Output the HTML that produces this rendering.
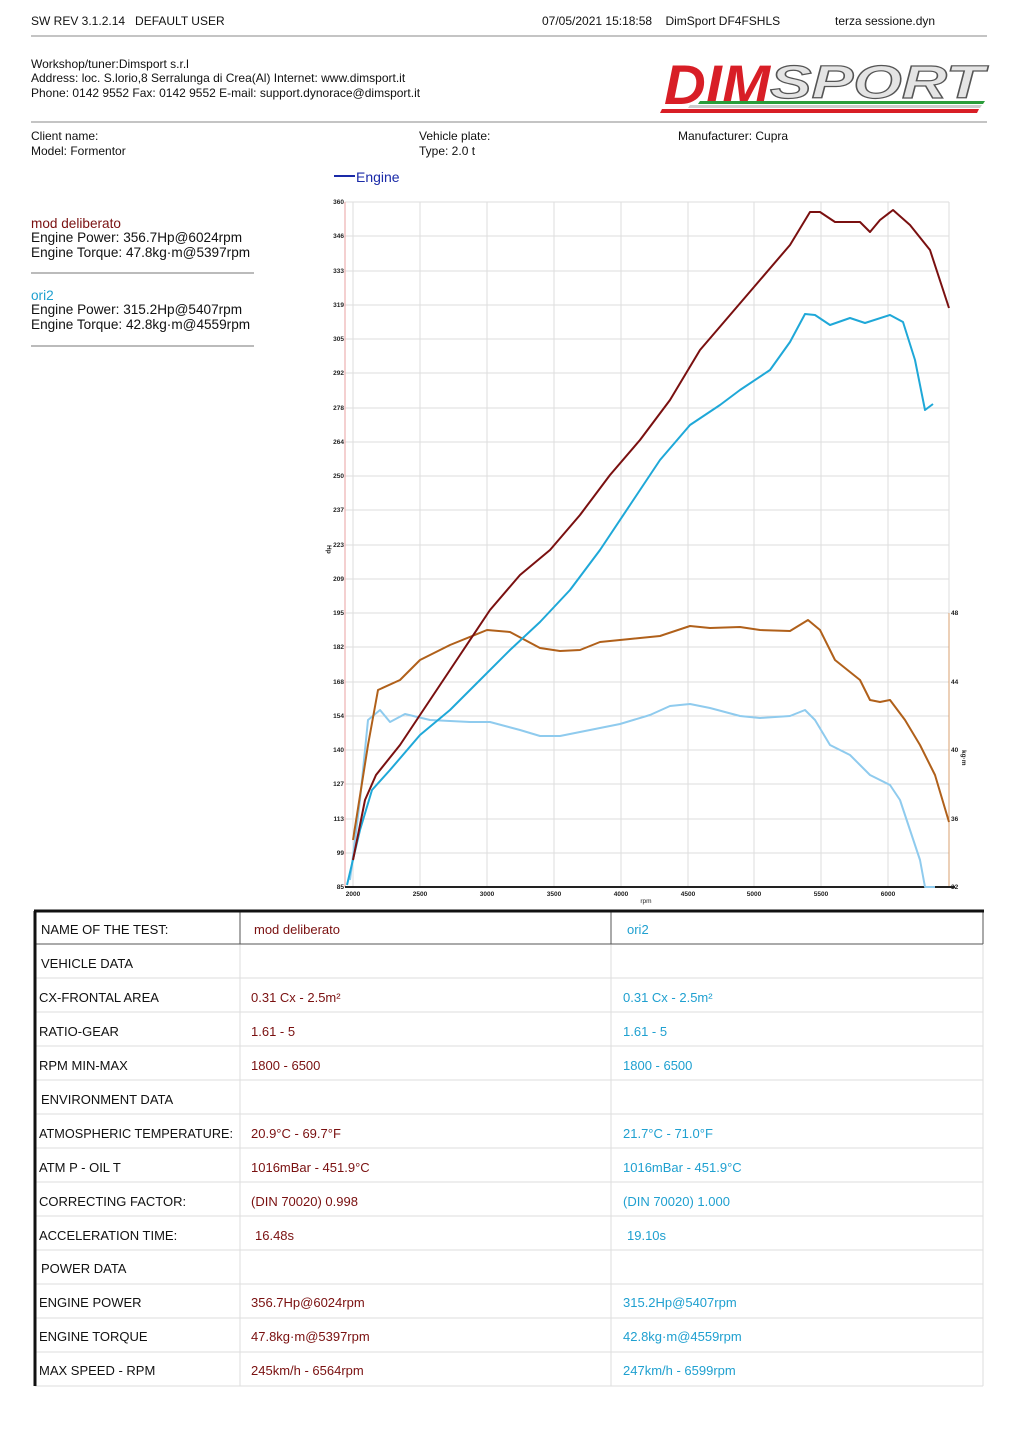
<!DOCTYPE html>
<html><head><meta charset="utf-8"><style>
html,body{margin:0;padding:0;background:#fff}
svg{display:block}
.t{font-family:"Liberation Sans",sans-serif;font-size:12px;fill:#111}
.n{font-family:"Liberation Sans",sans-serif;font-size:13px}
.ax{font-family:"Liberation Sans",sans-serif;font-size:6.5px;font-weight:bold;fill:#222}
</style></head><body>
<svg width="1017" height="1440" viewBox="0 0 1017 1440" xmlns="http://www.w3.org/2000/svg">
<text class="t" x="31" y="25">SW REV 3.1.2.14 &#160; DEFAULT USER</text>
<text class="t" x="542" y="25">07/05/2021 15:18:58 &#160;&#160; DimSport DF4FSHLS</text>
<text class="t" x="835" y="25">terza sessione.dyn</text>
<line x1="31" y1="36" x2="987" y2="36" stroke="#888"/>
<text class="t" x="31" y="68">Workshop/tuner:Dimsport s.r.l</text>
<text class="t" x="31" y="82">Address: loc. S.lorio,8 Serralunga di Crea(Al) Internet: www.dimsport.it</text>
<text class="t" x="31" y="97">Phone: 0142 9552 Fax: 0142 9552 E-mail: support.dynorace@dimsport.it</text>
<!-- logo -->
<text x="664" y="104" font-family="Liberation Sans" font-weight="bold" font-style="italic" font-size="56" fill="#d81e26" textLength="106" lengthAdjust="spacingAndGlyphs">DIM</text>
<text x="770" y="98" font-family="Liberation Sans" font-weight="bold" font-style="italic" font-size="46" fill="#e4e4e4" stroke="#555" stroke-width="1.2" textLength="214" lengthAdjust="spacingAndGlyphs">SPORT</text>
<polygon points="700,101 985,101 983,104 698,104" fill="#2a9d3a"/>
<polygon points="690,105 982,105 980,108 688,108" fill="#ccc"/>
<polygon points="662,109 979,109 977,113 660,113" fill="#d81e26"/>
<line x1="31" y1="122" x2="987" y2="122" stroke="#888"/>
<text class="t" x="31" y="140">Client name:</text>
<text class="t" x="31" y="155">Model: Formentor</text>
<text class="t" x="419" y="140">Vehicle plate:</text>
<text class="t" x="419" y="155">Type: 2.0 t</text>
<text class="t" x="678" y="140">Manufacturer: Cupra</text>
<line x1="334" y1="176" x2="355" y2="176" stroke="#1a2aa8" stroke-width="2"/>
<text x="356" y="182" font-family="Liberation Sans" font-size="14" fill="#1a2aa8">Engine</text>
<g font-family="Liberation Sans" font-size="13.6">
<text x="31" y="228" fill="#7a1010">mod deliberato</text>
<text x="31" y="242" fill="#111">Engine Power: 356.7Hp@6024rpm</text>
<text x="31" y="257" fill="#111">Engine Torque: 47.8kg·m@5397rpm</text>
<text x="31" y="300" fill="#1fa0d0">ori2</text>
<text x="31" y="314" fill="#111">Engine Power: 315.2Hp@5407rpm</text>
<text x="31" y="329" fill="#111">Engine Torque: 42.8kg·m@4559rpm</text>
</g>
<line x1="31" y1="273" x2="254" y2="273" stroke="#777"/>
<line x1="31" y1="346" x2="254" y2="346" stroke="#777"/>
<!-- grid -->
<g stroke="#ddd" stroke-width="1">
<line x1="353" y1="202" x2="353" y2="887"/><line x1="420" y1="202" x2="420" y2="887"/><line x1="487" y1="202" x2="487" y2="887"/><line x1="554" y1="202" x2="554" y2="887"/><line x1="621" y1="202" x2="621" y2="887"/><line x1="688" y1="202" x2="688" y2="887"/><line x1="754" y1="202" x2="754" y2="887"/><line x1="821" y1="202" x2="821" y2="887"/><line x1="888" y1="202" x2="888" y2="887"/><line x1="949" y1="202" x2="949" y2="887"/>
<line x1="345" y1="202" x2="949" y2="202"/><line x1="345" y1="236" x2="949" y2="236"/><line x1="345" y1="271" x2="949" y2="271"/><line x1="345" y1="305" x2="949" y2="305"/><line x1="345" y1="339" x2="949" y2="339"/><line x1="345" y1="373" x2="949" y2="373"/><line x1="345" y1="408" x2="949" y2="408"/><line x1="345" y1="442" x2="949" y2="442"/><line x1="345" y1="476" x2="949" y2="476"/><line x1="345" y1="510" x2="949" y2="510"/><line x1="345" y1="545" x2="949" y2="545"/><line x1="345" y1="579" x2="949" y2="579"/><line x1="345" y1="613" x2="949" y2="613"/><line x1="345" y1="647" x2="949" y2="647"/><line x1="345" y1="682" x2="949" y2="682"/><line x1="345" y1="716" x2="949" y2="716"/><line x1="345" y1="750" x2="949" y2="750"/><line x1="345" y1="784" x2="949" y2="784"/><line x1="345" y1="819" x2="949" y2="819"/><line x1="345" y1="853" x2="949" y2="853"/>
</g>
<line x1="345" y1="202" x2="345" y2="887" stroke="#e8a0a0"/>
<line x1="949" y1="613" x2="949" y2="887" stroke="#d8a070"/>
<line x1="345" y1="887" x2="955" y2="887" stroke="#222" stroke-width="2"/>
<g class="ax" text-anchor="end">
<text x="344" y="204">360</text><text x="344" y="238">346</text><text x="344" y="273">333</text><text x="344" y="307">319</text><text x="344" y="341">305</text><text x="344" y="375">292</text><text x="344" y="410">278</text><text x="344" y="444">264</text><text x="344" y="478">250</text><text x="344" y="512">237</text><text x="344" y="547">223</text><text x="344" y="581">209</text><text x="344" y="615">195</text><text x="344" y="649">182</text><text x="344" y="684">168</text><text x="344" y="718">154</text><text x="344" y="752">140</text><text x="344" y="786">127</text><text x="344" y="821">113</text><text x="344" y="855">99</text><text x="344" y="889">85</text>
</g>
<g class="ax"><text x="951" y="615">48</text><text x="951" y="684">44</text><text x="951" y="752">40</text><text x="951" y="821">36</text><text x="951" y="889">32</text></g>
<g class="ax" text-anchor="middle"><text x="353" y="896">2000</text><text x="420" y="896">2500</text><text x="487" y="896">3000</text><text x="554" y="896">3500</text><text x="621" y="896">4000</text><text x="688" y="896">4500</text><text x="754" y="896">5000</text><text x="821" y="896">5500</text><text x="888" y="896">6000</text><text x="646" y="903" font-weight="normal">rpm</text></g>
<text class="ax" x="327" y="545" transform="rotate(90 327 545)">Hp</text>
<text class="ax" x="962" y="750" transform="rotate(90 962 750)">kg·m</text>
<g fill="none" stroke-width="2" stroke-linejoin="round">
<polyline stroke="#8fcbee" points="350,880 360,800 368,720 380,710 390,722 405,714 430,720 470,722 490,722 520,730 540,736 560,736 590,730 620,724 650,715 670,706 690,704 710,708 740,716 760,718 790,716 805,710 815,720 830,745 850,755 870,775 890,785 900,800 920,860 925,887 935,887"/>
<polyline stroke="#b0601a" points="353,840 368,745 378,690 400,680 420,660 450,645 487,630 510,632 540,648 560,651 580,650 600,642 630,639 660,636 690,626 710,628 740,627 760,630 790,631 808,620 820,630 835,660 860,680 870,700 880,702 890,700 905,720 920,745 935,775 949,822"/>
<polyline stroke="#1fa8d8" points="347,885 360,830 372,790 390,770 420,735 450,710 480,680 510,650 540,622 570,590 600,550 630,505 660,460 690,425 720,405 740,390 770,370 790,342 805,314 815,315 830,325 850,318 865,323 890,315 903,322 915,360 925,410 933,404"/>
<polyline stroke="#7a1010" points="353,860 365,800 376,775 400,745 430,700 460,655 490,610 520,575 550,550 580,515 610,475 640,440 670,400 700,350 730,315 760,280 790,245 810,212 820,212 835,222 860,222 870,232 880,220 893,210 910,225 930,250 949,308"/>
</g>
<!-- table -->
<g stroke="#ddd" stroke-width="1">
<line x1="35" y1="978" x2="983" y2="978"/><line x1="35" y1="1012" x2="983" y2="1012"/><line x1="35" y1="1046" x2="983" y2="1046"/><line x1="35" y1="1080" x2="983" y2="1080"/><line x1="35" y1="1114" x2="983" y2="1114"/><line x1="35" y1="1148" x2="983" y2="1148"/><line x1="35" y1="1182" x2="983" y2="1182"/><line x1="35" y1="1216" x2="983" y2="1216"/><line x1="35" y1="1250" x2="983" y2="1250"/><line x1="35" y1="1284" x2="983" y2="1284"/><line x1="35" y1="1318" x2="983" y2="1318"/><line x1="35" y1="1352" x2="983" y2="1352"/><line x1="35" y1="1386" x2="983" y2="1386"/>
<line x1="983" y1="944" x2="983" y2="1386"/>
<line x1="240" y1="944" x2="240" y2="1386"/><line x1="611" y1="944" x2="611" y2="1386"/>
</g>
<line x1="35" y1="944" x2="983" y2="944" stroke="#555"/>
<line x1="240" y1="911" x2="240" y2="944" stroke="#555"/><line x1="611" y1="911" x2="611" y2="944" stroke="#555"/>
<line x1="983" y1="911" x2="983" y2="944" stroke="#555"/>
<line x1="34" y1="911" x2="984" y2="911" stroke="#111" stroke-width="3"/>
<line x1="35" y1="911" x2="35" y2="1386" stroke="#111" stroke-width="3"/>
<g class="n" fill="#111">
<text x="41" y="934">NAME OF THE TEST:</text><text x="41" y="968">VEHICLE DATA</text><text x="39" y="1002">CX-FRONTAL AREA</text><text x="39" y="1036">RATIO-GEAR</text><text x="39" y="1070">RPM MIN-MAX</text><text x="41" y="1104">ENVIRONMENT DATA</text><text x="39" y="1138" textLength="194" lengthAdjust="spacingAndGlyphs">ATMOSPHERIC TEMPERATURE:</text><text x="39" y="1172">ATM P - OIL T</text><text x="39" y="1206">CORRECTING FACTOR:</text><text x="39" y="1240">ACCELERATION TIME:</text><text x="41" y="1273">POWER DATA</text><text x="39" y="1307">ENGINE POWER</text><text x="39" y="1341">ENGINE TORQUE</text><text x="39" y="1375">MAX SPEED - RPM</text>
</g>
<g class="n" fill="#7a1010">
<text x="254" y="934">mod deliberato</text><text x="251" y="1002">0.31 Cx - 2.5m²</text><text x="251" y="1036">1.61 - 5</text><text x="251" y="1070">1800 - 6500</text><text x="251" y="1138">20.9°C - 69.7°F</text><text x="251" y="1172">1016mBar - 451.9°C</text><text x="251" y="1206">(DIN 70020) 0.998</text><text x="255" y="1240">16.48s</text><text x="251" y="1307">356.7Hp@6024rpm</text><text x="251" y="1341">47.8kg·m@5397rpm</text><text x="251" y="1375">245km/h - 6564rpm</text>
</g>
<g class="n" fill="#1fa0d0">
<text x="627" y="934">ori2</text><text x="623" y="1002">0.31 Cx - 2.5m²</text><text x="623" y="1036">1.61 - 5</text><text x="623" y="1070">1800 - 6500</text><text x="623" y="1138">21.7°C - 71.0°F</text><text x="623" y="1172">1016mBar - 451.9°C</text><text x="623" y="1206">(DIN 70020) 1.000</text><text x="627" y="1240">19.10s</text><text x="623" y="1307">315.2Hp@5407rpm</text><text x="623" y="1341">42.8kg·m@4559rpm</text><text x="623" y="1375">247km/h - 6599rpm</text>
</g>
</svg>
</body></html>
